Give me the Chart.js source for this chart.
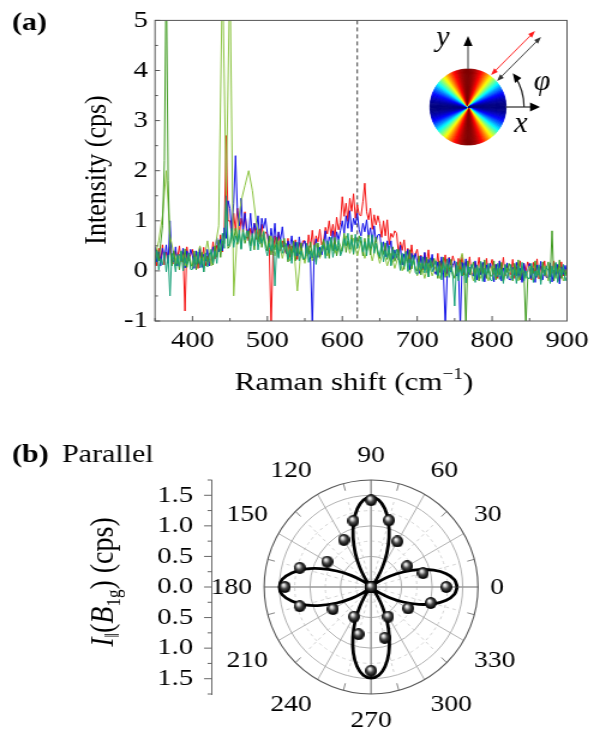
<!DOCTYPE html>
<html>
<head>
<meta charset="utf-8">
<script src="https://cdn.jsdelivr.net/npm/chart.js@4.4.1/dist/chart.umd.min.js"></script>
<style>
  html, body { margin: 0; padding: 0; background: #fff; }
  body { width: 606px; height: 733px; position: relative; overflow: hidden; }
  canvas { position: absolute; left: 0; transform-origin: 0 0; transform: scaleX(1.2); }
  #spectra { top: 0; }
  #polar { top: 400px; }
</style>
</head>
<body>
<canvas id="spectra" width="505" height="400"></canvas>
<canvas id="polar" width="505" height="333"></canvas>
<script>
// the serif text of the figure is wide, so both canvases are drawn narrow and stretched by CSS
const SX = 1.2;
const serif = "'Liberation Serif', 'Times New Roman', serif";

// ---- (a) Raman spectra ----
// fine grid (2.5 cm-1) used by the four dense spectra
const ramanShiftFine = [
  350, 352.5, 355, 357.5, 360, 362.5, 365, 367.5, 370, 372.5,
  375, 377.5, 380, 382.5, 385, 387.5, 390, 392.5, 395, 397.5,
  400, 402.5, 405, 407.5, 410, 412.5, 415, 417.5, 420, 422.5,
  425, 427.5, 430, 432.5, 435, 437.5, 440, 442.5, 445, 447.5,
  450, 452.5, 455, 457.5, 460, 462.5, 465, 467.5, 470, 472.5,
  475, 477.5, 480, 482.5, 485, 487.5, 490, 492.5, 495, 497.5,
  500, 502.5, 505, 507.5, 510, 512.5, 515, 517.5, 520, 522.5,
  525, 527.5, 530, 532.5, 535, 537.5, 540, 542.5, 545, 547.5,
  550, 552.5, 555, 557.5, 560, 562.5, 565, 567.5, 570, 572.5,
  575, 577.5, 580, 582.5, 585, 587.5, 590, 592.5, 595, 597.5,
  600, 602.5, 605, 607.5, 610, 612.5, 615, 617.5, 620, 622.5,
  625, 627.5, 630, 632.5, 635, 637.5, 640, 642.5, 645, 647.5,
  650, 652.5, 655, 657.5, 660, 662.5, 665, 667.5, 670, 672.5,
  675, 677.5, 680, 682.5, 685, 687.5, 690, 692.5, 695, 697.5,
  700, 702.5, 705, 707.5, 710, 712.5, 715, 717.5, 720, 722.5,
  725, 727.5, 730, 732.5, 735, 737.5, 740, 742.5, 745, 747.5,
  750, 752.5, 755, 757.5, 760, 762.5, 765, 767.5, 770, 772.5,
  775, 777.5, 780, 782.5, 785, 787.5, 790, 792.5, 795, 797.5,
  800, 802.5, 805, 807.5, 810, 812.5, 815, 817.5, 820, 822.5,
  825, 827.5, 830, 832.5, 835, 837.5, 840, 842.5, 845, 847.5,
  850, 852.5, 855, 857.5, 860, 862.5, 865, 867.5, 870, 872.5,
  875, 877.5, 880, 882.5, 885, 887.5, 890, 892.5, 895, 897.5,
  900
];
const intensityRed = [
  0.35, 0.10, 0.45, 0.20, 0.52, 0.12, 0.38, 0.25, 0.48, 0.15,
  0.15, 0.40, 0.25, 0.50, 0.18, 0.38, -0.80, 0.48, 0.20, 0.33,
  0.43, 0.13, 0.33, 0.05, 0.40, 0.20, 0.47, 0.10, 0.30, 0.15,
  0.25, 0.58, 0.24, 0.51, 0.42, 0.72, 0.38, 0.80, 2.70, 1.00,
  1.00, 0.70, 1.15, 0.80, 1.25, 0.72, 1.05, 0.88, 1.18, 0.75,
  0.60, 0.85, 0.70, 0.95, 0.63, 0.83, 0.55, 0.93, 0.65, 0.78,
  0.73, 0.43, -1.10, 0.35, 0.70, 0.50, 0.77, 0.40, 0.60, 0.45,
  0.35, 0.65, 0.27, 0.50, 0.37, 0.62, 0.23, 0.57, 0.42, 0.60,
  0.60, 0.36, 0.72, 0.47, 0.81, 0.42, 0.70, 0.58, 0.83, 0.52,
  0.60, 0.87, 0.74, 1.00, 0.70, 0.93, 0.67, 1.07, 0.82, 0.97,
  1.48, 1.09, 1.35, 0.99, 1.45, 1.19, 1.54, 1.05, 1.32, 1.12,
  1.10, 1.38, 1.75, 1.18, 1.02, 1.25, 0.83, 1.12, 0.92, 1.10,
  0.95, 0.67, 1.00, 0.70, 1.02, 0.52, 0.75, 0.67, 0.80, 0.75,
  0.35, 0.58, 0.41, 0.62, 0.28, 0.45, 0.17, 0.52, 0.21, 0.33,
  0.43, 0.12, 0.31, 0.02, 0.36, 0.15, 0.42, 0.05, 0.24, 0.08,
  0.05, 0.35, -0.03, 0.20, 0.07, 0.32, -0.07, 0.27, 0.12, 0.30,
  0.15, -0.10, 0.25, 0.00, 0.32, -0.08, 0.18, 0.05, 0.28, -0.05,
  -0.08, 0.17, 0.02, 0.27, -0.05, 0.15, -0.13, 0.25, -0.03, 0.10,
  0.23, -0.07, 0.13, -0.15, 0.20, 0.00, 0.27, -0.10, 0.10, -0.05,
  -0.07, 0.23, -0.15, 0.08, -0.05, 0.20, -0.19, 0.15, 0.00, 0.18,
  0.07, -0.18, 0.17, -0.08, 0.24, -0.16, 0.10, -0.03, 0.20, -0.13,
  -0.15, 0.10, -0.05, 0.20, -0.12, 0.08, -0.20, 0.18, -0.10, 0.03,
  0.00
];
const intensityBlue = [
  0.48, 0.18, 0.38, 0.10, 0.45, 0.25, 0.52, 0.15, 1.00, 0.20,
  0.18, 0.48, 0.10, 0.33, 0.20, 0.45, 0.06, 0.40, 0.25, 0.43,
  0.30, 0.05, 0.40, 0.15, 0.47, 0.07, 0.33, 0.20, 0.43, 0.10,
  0.20, 0.48, 0.37, 0.66, 0.38, 0.63, 0.40, 0.86, 0.65, 1.40,
  1.25, 0.80, 1.35, 2.30, 1.20, 0.90, 1.45, 0.75, 1.15, 0.85,
  0.75, 1.15, 0.68, 0.95, 0.80, 1.10, 0.62, 1.05, 0.85, 1.05,
  0.75, 0.48, 0.85, 0.55, 0.95, 0.50, 0.78, 0.62, 0.88, 0.52,
  0.35, 0.60, 0.45, 0.70, 0.38, 0.58, 0.30, 0.68, 0.40, 0.53,
  0.60, 0.30, 0.50, 0.22, -1.10, 0.37, 0.64, 0.27, 0.47, 0.32,
  0.50, 0.80, 0.42, 0.68, 0.55, 0.80, 0.43, 0.78, 0.62, 0.80,
  1.00, 0.75, 1.10, 0.85, 1.20, 0.78, 1.05, 0.92, 1.15, 0.82,
  0.70, 0.95, 0.78, 1.02, 0.68, 0.86, 0.55, 0.90, 0.58, 0.72,
  0.73, 0.40, 0.58, 0.28, 0.60, 0.38, 0.60, 0.23, 0.42, 0.27,
  0.22, 0.51, 0.12, 0.34, 0.20, 0.43, 0.02, 0.35, 0.19, 0.35,
  0.20, -0.05, 0.30, 0.05, 0.37, -0.03, 0.23, 0.10, 0.33, 0.00,
  -0.07, 0.18, 0.03, 0.28, -0.04, -1.10, -0.12, 0.26, -0.02, 0.11,
  0.20, -0.10, 0.10, -1.10, 0.17, -0.03, 0.24, -0.13, 0.07, -0.08,
  -0.10, 0.20, -0.18, 0.05, -0.08, 0.17, -0.22, 0.12, -0.03, 0.15,
  0.03, -0.22, 0.13, -0.12, 0.20, -0.20, 0.06, -0.07, 0.16, -0.17,
  -0.18, 0.07, -0.08, 0.17, -0.15, 0.05, -0.23, 0.15, -0.13, 0.00,
  0.15, -0.15, 0.05, -0.23, 0.12, -0.08, 0.19, -0.18, 0.02, -0.13,
  -0.14, 0.16, -0.22, 0.01, -0.12, 0.13, -0.26, 0.08, -0.07, 0.11,
  -0.05
];
const intensityGreen = [
  0.15, 0.42, 0.20, 0.55, 0.90, 2.20, 6.00, 1.80, 0.45, 0.10,
  0.40, 0.10, 0.30, 0.02, 0.37, 0.17, 0.44, 0.07, 0.27, 0.12,
  0.10, 0.40, 0.02, 0.25, 0.12, 0.37, -0.02, 0.32, 0.17, 0.35,
  0.35, 0.12, 0.50, 0.27, 0.62, 0.27, 0.60, 0.55, 1.40, 0.45,
  0.50, 0.75, 0.60, 0.85, 0.53, 0.73, 0.45, 0.83, 0.55, 0.68,
  0.80, 0.50, 0.70, 0.42, 0.77, 0.57, 0.84, 0.47, 0.67, 0.52,
  0.40, 0.70, 0.32, 0.55, 0.42, 0.67, 0.28, 0.62, 0.47, 0.65,
  0.43, 0.18, 0.53, 0.28, 0.60, 0.20, 0.46, 0.33, 0.56, 0.23,
  0.23, 0.48, 0.33, 0.58, 0.26, 0.46, 0.18, 0.56, 0.28, 0.41,
  0.63, 0.33, 0.53, 0.25, 0.60, 0.40, 0.67, 0.30, 0.50, 0.35,
  0.45, 0.75, 0.37, 0.60, 0.47, 0.72, 0.33, 0.67, 0.52, 0.70,
  0.55, 0.30, 0.65, 0.40, 0.72, 0.32, 0.58, 0.45, 0.68, 0.35,
  0.25, 0.49, 0.33, 0.56, 0.23, 0.41, 0.12, 0.48, 0.19, 0.31,
  0.43, 0.12, 0.31, 0.03, 0.37, 0.16, 0.42, 0.04, 0.23, 0.05,
  0.00, 0.30, -0.08, 0.15, 0.02, 0.27, -0.12, 0.22, 0.07, 0.25,
  0.10, -0.15, 0.20, -0.05, 0.27, -0.13, 0.13, 0.00, 0.23, -0.10,
  -0.13, 0.12, -0.03, 0.22, -0.10, 0.10, -1.10, 0.20, -0.08, 0.05,
  0.18, -0.12, 0.08, -0.20, 0.15, -0.05, 0.22, -0.15, 0.05, -0.10,
  -0.10, 0.20, -0.18, 0.05, -0.08, 0.17, -0.22, 0.12, -0.03, 0.15,
  0.05, -0.20, 0.15, -0.10, 0.22, -0.18, 0.08, -0.05, -1.10, -0.15,
  -0.15, 0.10, -0.05, 0.20, -0.12, 0.08, -0.20, 0.18, -0.10, 0.03,
  0.18, -0.12, 0.80, -0.20, 0.15, -0.05, 0.22, -0.15, 0.05, -0.10,
  0.05
];
const intensityTeal = [
  0.10, 0.40, 0.02, 0.25, 0.12, 0.37, -0.02, 0.32, -0.50, 0.35,
  0.23, -0.02, 0.33, 0.08, 0.40, 0.00, 0.26, 0.13, 0.36, 0.03,
  0.03, 0.28, 0.13, 0.38, 0.06, 0.26, -0.02, 0.36, 0.08, 0.21,
  0.43, 0.15, 0.40, 0.15, 0.52, 0.40, 0.75, 0.45, 1.50, 0.50,
  0.55, 0.85, 0.47, 0.70, 0.57, 0.82, 0.43, 0.77, 0.62, 0.80,
  0.65, 0.40, 0.75, 0.50, 0.82, 0.42, 0.68, 0.55, 0.78, 0.45,
  0.30, 0.55, 0.40, 0.65, -0.30, 0.53, 0.25, 0.63, 0.35, 0.48,
  0.53, 0.23, 0.43, 0.15, 0.50, 0.30, 0.57, 0.20, 0.40, 0.25,
  0.25, 0.55, 0.17, 0.40, 0.27, 0.52, 0.13, 0.47, 0.32, 0.50,
  0.50, 0.25, 0.60, 0.35, 0.67, 0.27, 0.53, 0.40, 0.63, 0.30,
  0.40, 0.65, 0.50, 0.75, 0.43, 0.63, 0.35, 0.73, 0.45, 0.58,
  0.68, 0.38, 0.58, 0.30, 0.65, 0.45, 0.72, 0.35, 0.55, 0.40,
  0.28, 0.57, 0.18, 0.40, 0.26, 0.50, 0.10, 0.42, 0.26, 0.43,
  0.27, 0.01, 0.35, 0.09, 0.39, -0.01, 0.24, 0.10, 0.31, -0.03,
  -0.07, 0.18, 0.03, 0.28, -0.04, 0.16, -0.12, 0.26, -0.02, 0.11,
  0.20, -0.10, 0.10, -0.18, 0.17, -0.03, 0.24, -0.13, 0.07, -0.08,
  -0.70, 0.18, -0.20, 0.03, -0.10, 0.15, -0.24, 0.10, -0.05, 0.13,
  0.02, -0.23, 0.12, -0.13, 0.19, -0.21, 0.05, -0.08, 0.15, -0.18,
  -0.20, 0.05, -0.10, 0.15, -0.17, 0.03, -0.25, 0.13, -0.15, -0.02,
  0.13, -0.17, 0.03, -0.25, 0.10, -0.10, 0.17, -0.20, 0.00, -0.15,
  -0.15, 0.15, -0.23, 0.00, -0.13, 0.12, -0.27, 0.07, -0.08, 0.10,
  0.00, -0.25, 0.10, -0.15, 0.17, -0.23, 0.03, -0.10, 0.13, -0.20,
  -0.10
];
// coarse grid (5 cm-1) for the light green trace with the strong lines
const ramanShift = [
  350, 355, 360, 365, 370, 375, 380, 385, 390, 395,
  400, 405, 410, 415, 420, 425, 430, 435, 440, 445,
  450, 455, 460, 465, 470, 475, 480, 485, 490, 495,
  500, 505, 510, 515, 520, 525, 530, 535, 540, 545,
  550, 555, 560, 565, 570, 575, 580, 585, 590, 595,
  600, 605, 610, 615, 620, 625, 630, 635, 640, 645,
  650, 655, 660, 665, 670, 675, 680, 685, 690, 695,
  700, 705, 710, 715, 720, 725, 730, 735, 740, 745,
  750, 755, 760, 765, 770, 775, 780, 785, 790, 795,
  800, 805, 810, 815, 820, 825, 830, 835, 840, 845,
  850, 855, 860, 865, 870, 875, 880, 885, 890, 895,
  900
];
const intensityLightGreen = [
  0.30, 0.60, 1.10, 2.00, 0.70, 0.35, 0.15, 0.40, 0.10, 0.35,
  0.05, 0.25, 0.50, 0.20, 0.60, 0.10, 0.45, 0.90, 6.00, 1.50,
  6.00, -0.50, 0.80, 1.40, 1.70, 2.00, 1.60, 1.00, 0.55, 0.80,
  0.40, 0.70, 0.30, 0.60, 0.25, 0.55, 0.20, 0.50, -0.40, 0.45,
  0.15, 0.50, 0.20, 0.55, 0.25, 0.60, 0.30, 0.65, 0.35, 0.60,
  0.40, 0.70, 0.35, 0.65, 0.30, 0.60, 0.25, 0.55, 0.20, 0.50,
  0.15, 0.40, 0.10, 0.35, 0.05, 0.30, 0.00, 0.25, -0.05, 0.20,
  -0.10, 0.15, -0.15, 0.15, -0.10, 0.10, -0.15, 0.10, -0.10, 0.05,
  -0.15, 0.10, 0.35, -0.10, 0.05, -0.20, 0.10, -0.15, 0.05, -0.20,
  0.10, -0.15, 0.05, -0.20, 0.05, -0.15, 0.10, -0.20, 0.05, -0.15,
  0.10, -0.20, 0.00, -0.15, 0.10, -0.20, 0.05, -0.15, 0.10, -0.20,
  0.05
];
const markerShift = 620;

// ---- (b) polar plot ----
const polarAngles = [0, 15, 30, 45, 60, 75, 90, 105, 120, 135, 150, 165,
  180, 195, 210, 225, 240, 255, 270, 285, 300, 315, 330, 345];
const polarIntensity = [1.23, 0.88, 0.68, 0.00, 0.86, 1.13, 1.42, 1.12, 0.89, 0.00, 0.83, 1.21,
  1.41, 1.21, 0.72, 0.00, 0.56, 0.80, 1.37, 0.86, 0.56, 0.00, 0.70, 1.01];
const fitAngles = [
  0, 5, 10, 15, 20, 25, 30, 35, 40, 45, 50, 55, 60, 65, 70, 75, 80, 85,
  90, 95, 100, 105, 110, 115, 120, 125, 130, 135, 140, 145, 150, 155, 160, 165, 170, 175,
  180, 185, 190, 195, 200, 205, 210, 215, 220, 225, 230, 235, 240, 245, 250, 255, 260, 265,
  270, 275, 280, 285, 290, 295, 300, 305, 310, 315, 320, 325, 330, 335, 340, 345, 350, 355, 360
];
const fitIntensity = [
  1.41, 1.37, 1.25, 1.06, 0.83, 0.58, 0.35, 0.16, 0.04, 0.00, 0.04, 0.17, 0.37, 0.61, 0.86, 1.10, 1.30, 1.43,
  1.47, 1.43, 1.30, 1.10, 0.86, 0.61, 0.37, 0.17, 0.04, 0.00, 0.05, 0.18, 0.38, 0.62, 0.88, 1.13, 1.32, 1.46,
  1.50, 1.46, 1.32, 1.13, 0.88, 0.62, 0.38, 0.18, 0.05, 0.00, 0.04, 0.17, 0.37, 0.62, 0.87, 1.12, 1.32, 1.45,
  1.49, 1.45, 1.32, 1.12, 0.87, 0.62, 0.37, 0.17, 0.04, 0.00, 0.04, 0.16, 0.35, 0.58, 0.83, 1.06, 1.25, 1.37, 1.41
];
const polarRings = [0.25, 0.5, 0.75, 1.0, 1.25, 1.5];
const polarMax = 1.75;
const polarTickLabels = [0, 30, 60, 90, 120, 150, 180, 210, 240, 270, 300, 330];

const rad = (d) => (d * Math.PI) / 180;

function arrowHead(ctx, x, y, ang, len, half) {
  ctx.beginPath();
  ctx.moveTo(x, y);
  ctx.lineTo(x - len * Math.cos(ang) + half * Math.sin(ang), y - len * Math.sin(ang) - half * Math.cos(ang));
  ctx.lineTo(x - len * Math.cos(ang) - half * Math.sin(ang), y - len * Math.sin(ang) + half * Math.cos(ang));
  ctx.closePath();
  ctx.fill();
}

function jet(v) {
  const c = (t) => Math.round(255 * Math.max(0, Math.min(1, t)));
  return `rgb(${c(1.5 - Math.abs(4 * v - 3))},${c(1.5 - Math.abs(4 * v - 2))},${c(1.5 - Math.abs(4 * v - 1))})`;
}

// sketch in the upper right corner: polarisation wheel and axes, drawn in page pixels
function drawInset(ctx) {
  ctx.save();
  ctx.scale(1 / SX, 1);
  const cx = 468, cy = 107, r = 38;
  for (let a = 0; a < 360; a += 2) {
    const col = jet(Math.pow(Math.sin(rad(a + 1)), 2));
    ctx.fillStyle = col;
    ctx.strokeStyle = col;
    ctx.lineWidth = 0.8;
    ctx.beginPath();
    ctx.moveTo(cx, cy);
    ctx.arc(cx, cy, r, rad(a), rad(a + 2.2));
    ctx.closePath();
    ctx.fill();
    ctx.stroke();
  }
  ctx.strokeStyle = '#555';
  ctx.fillStyle = '#000';
  ctx.lineWidth = 1.4;
  ctx.beginPath();
  ctx.moveTo(cx, cy - r); ctx.lineTo(cx, 44);
  ctx.moveTo(cx + r, cy); ctx.lineTo(532, cy);
  ctx.stroke();
  arrowHead(ctx, cx, 36, -Math.PI / 2, 10, 4.5);
  arrowHead(ctx, 540, cy, 0, 10, 4.5);
  // angle arrow
  ctx.strokeStyle = '#222';
  ctx.beginPath();
  ctx.arc(cx, cy, 56, 0, rad(-33), true);
  ctx.stroke();
  const ea = rad(-37);
  arrowHead(ctx, cx + 56 * Math.cos(ea), cy + 56 * Math.sin(ea), ea - Math.PI / 2, 9, 4);
  // polarisation double arrows
  const pair = (x1, y1, x2, y2, col) => {
    ctx.strokeStyle = col; ctx.fillStyle = col; ctx.lineWidth = 1;
    const ang = Math.atan2(y2 - y1, x2 - x1);
    ctx.beginPath(); ctx.moveTo(x1 + 4 * Math.cos(ang), y1 + 4 * Math.sin(ang));
    ctx.lineTo(x2 - 4 * Math.cos(ang), y2 - 4 * Math.sin(ang)); ctx.stroke();
    arrowHead(ctx, x2, y2, ang, 7, 2.6);
    arrowHead(ctx, x1, y1, ang + Math.PI, 7, 2.6);
  };
  pair(491, 75, 535, 31, '#ff1a1a');
  pair(497, 81, 541, 37, '#333');
  ctx.fillStyle = '#000';
  ctx.textAlign = 'center';
  ctx.textBaseline = 'alphabetic';
  ctx.font = `italic 30px ${serif}`;
  ctx.fillText('y', 443, 46);
  ctx.fillText('x', 521, 132);
  ctx.fillText('\u03c6', 542, 90);
  ctx.restore();
}

const spectraDecor = {
  id: 'spectraDecor',
  beforeDatasetsDraw(chart) {
    const { ctx, chartArea: a, scales: { x } } = chart;
    const px = x.getPixelForValue(markerShift);
    ctx.save();
    ctx.strokeStyle = '#111';
    ctx.lineWidth = 0.8;
    ctx.setLineDash([4, 3]);
    ctx.beginPath(); ctx.moveTo(px, a.top); ctx.lineTo(px, a.bottom); ctx.stroke();
    ctx.restore();
  },
  afterDraw(chart) {
    const { ctx, chartArea: a, scales: { x, y } } = chart;
    ctx.save();
    ctx.strokeStyle = '#555';
    ctx.lineWidth = 1;
    ctx.strokeRect(a.left, a.top, a.right - a.left, a.bottom - a.top);
    ctx.beginPath();
    x.ticks.forEach((t) => {
      const px = x.getPixelForValue(t.value);
      const len = t.value % 100 === 0 ? 5 : 3;
      ctx.moveTo(px, a.bottom); ctx.lineTo(px, a.bottom - len);
    });
    y.ticks.forEach((t) => {
      const py = y.getPixelForValue(t.value);
      const len = (Number.isInteger(t.value) ? 5 : 3) / SX;
      ctx.moveTo(a.left, py); ctx.lineTo(a.left + len, py);
    });
    ctx.stroke();

    ctx.fillStyle = '#000';
    ctx.textBaseline = 'alphabetic';
    // x title with superscript
    ctx.font = `26px ${serif}`;
    const t1 = 'Raman shift (cm', t3 = ')';
    const w1 = ctx.measureText(t1).width, w3 = ctx.measureText(t3).width;
    ctx.font = `16px ${serif}`;
    const w2 = ctx.measureText('\u22121').width;
    const tx = 354 / SX - (w1 + w2 + w3) / 2;
    ctx.textAlign = 'left';
    ctx.font = `26px ${serif}`;
    ctx.fillText(t1, tx, 390);
    ctx.font = `16px ${serif}`;
    ctx.fillText('\u22121', tx + w1, 379);
    ctx.font = `26px ${serif}`;
    ctx.fillText(t3, tx + w1 + w2, 390);
    // y title
    ctx.save();
    ctx.translate(106 / SX, 170);
    ctx.rotate(-Math.PI / 2);
    ctx.textAlign = 'center';
    ctx.fillText('Intensity (cps)', 0, 0);
    ctx.restore();
    // panel letter
    ctx.font = `bold 25px ${serif}`;
    ctx.fillText('(a)', 12 / SX, 30);
    drawInset(ctx);
    ctx.restore();
  }
};

const toPoints = (xs, ys) => xs.map((x, i) => ({ x, y: ys[i] }));

new Chart(document.getElementById('spectra'), {
  type: 'line',
  data: {
    datasets: [
      { data: toPoints(ramanShiftFine, intensityTeal), borderColor: '#16a078' },
      { data: toPoints(ramanShiftFine, intensityGreen), borderColor: '#3f9b1f' },
      { data: toPoints(ramanShift, intensityLightGreen), borderColor: '#8cc442' },
      { data: toPoints(ramanShiftFine, intensityBlue), borderColor: '#1010e8' },
      { data: toPoints(ramanShiftFine, intensityRed), borderColor: '#f41010' }
    ]
  },
  options: {
    responsive: false,
    animation: false,
    elements: { point: { radius: 0 }, line: { borderWidth: 1, tension: 0 } },
    layout: { padding: { left: 0, right: 32.5, top: 19, bottom: 0 } },
    plugins: { legend: { display: false }, tooltip: { enabled: false } },
    scales: {
      x: {
        type: 'linear', min: 350, max: 900,
        border: { display: false },
        grid: { display: false, drawTicks: false },
        ticks: {
          stepSize: 50, padding: 5, autoSkip: false, maxRotation: 0, color: '#000',
          font: { family: serif, size: 24 },
          callback: (v) => (v % 100 === 0 ? v : '')
        },
        afterFit: (s) => { s.height = 79; }
      },
      y: {
        min: -1, max: 5,
        border: { display: false },
        grid: { display: false, drawTicks: false },
        ticks: {
          stepSize: 0.5, padding: 6, autoSkip: false, color: '#000',
          font: { family: serif, size: 24 },
          callback: (v) => (Number.isInteger(v) ? v : '')
        },
        afterFit: (s) => { s.width = 155 / SX; }
      }
    }
  },
  plugins: [spectraDecor]
});

// shaded black sphere used as marker, drawn narrow so it ends up round
function makeBall(d) {
  const c = document.createElement('canvas');
  c.width = Math.round(d / SX);
  c.height = d;
  const g = c.getContext('2d');
  g.scale(c.width / d, 1);
  const r = d / 2;
  const grad = g.createRadialGradient(r * 0.72, r * 0.62, r * 0.05, r, r, r);
  grad.addColorStop(0, '#ffffff');
  grad.addColorStop(0.2, '#cfcfcf');
  grad.addColorStop(0.5, '#4a4a4a');
  grad.addColorStop(0.85, '#0c0c0c');
  grad.addColorStop(1, '#000');
  g.fillStyle = grad;
  g.beginPath(); g.arc(r, r, r, 0, 2 * Math.PI); g.fill();
  return c;
}

const polarDecor = {
  id: 'polarDecor',
  beforeDatasetsDraw(chart) {
    const { ctx, scales: { x, y } } = chart;
    const cx = x.getPixelForValue(0), cy = y.getPixelForValue(0);
    const kx = x.getPixelForValue(1) - cx, ky = cy - y.getPixelForValue(1);
    const ring = (r, color, dash, w) => {
      ctx.strokeStyle = color; ctx.setLineDash(dash); ctx.lineWidth = w;
      ctx.beginPath(); ctx.ellipse(cx, cy, r * kx, r * ky, 0, 0, 2 * Math.PI); ctx.stroke();
    };
    const spoke = (deg, r0, r1, color, dash, w) => {
      const c = Math.cos(rad(deg)), s = Math.sin(rad(deg));
      ctx.strokeStyle = color; ctx.setLineDash(dash); ctx.lineWidth = w;
      ctx.beginPath();
      ctx.moveTo(cx + r0 * c * kx, cy - r0 * s * ky);
      ctx.lineTo(cx + r1 * c * kx, cy - r1 * s * ky);
      ctx.stroke();
    };
    ctx.save();
    polarRings.forEach((r, i) => ring(r, i % 2 ? '#a8a8a8' : '#cfcfcf', i % 2 ? [] : [3, 3], 0.9));
    for (let d = 15; d < 360; d += 30) spoke(d, 0.1, polarRings[polarRings.length - 1], '#cfcfcf', [3, 3], 0.9);
    for (let d = 0; d < 360; d += 30) {
      const main = d % 90 === 0;
      spoke(d, 0, polarMax, main ? '#9a9a9a' : '#a8a8a8', [], main ? 1.6 : 0.9);
    }
    for (let d = 15; d < 360; d += 30) spoke(d, polarMax - 0.12, polarMax, '#777', [], 0.9);
    ring(polarMax, '#555', [], 1.1);
    ctx.restore();
  },
  afterDraw(chart) {
    const { ctx, chartArea: a, scales: { x, y } } = chart;
    const cx = x.getPixelForValue(0), cy = y.getPixelForValue(0);
    const ky = cy - y.getPixelForValue(1);
    ctx.save();
    // minor / major ticks of the radius axis
    ctx.strokeStyle = '#666';
    ctx.lineWidth = 1;
    ctx.beginPath();
    y.ticks.forEach((t) => {
      const py = y.getPixelForValue(t.value);
      const len = (Math.round(t.value * 4) % 2 === 0 ? 8 : 4.5) / SX;
      ctx.moveTo(a.left - len, py); ctx.lineTo(a.left, py);
    });
    ctx.stroke();
    // angle labels, boxes pushed out from the ring
    ctx.fillStyle = '#000';
    ctx.font = `23px ${serif}`;
    ctx.textAlign = 'center';
    ctx.textBaseline = 'middle';
    const R = polarMax * ky + 12;
    polarTickLabels.forEach((deg) => {
      const txt = String(deg);
      const w = ctx.measureText(txt).width * SX;
      const c = Math.cos(rad(deg)), s = Math.sin(rad(deg));
      const sc = Math.abs(c) < 0.01 ? 0 : Math.sign(c);
      const ss = Math.abs(s) < 0.01 ? 0 : Math.sign(s);
      const dx = R * c + sc * w / 2, dy = R * s + ss * 13.5;
      ctx.fillText(txt, cx + dx / SX, cy - dy + 1);
    });
    // rotated axis title  I||(B1g) (cps)
    ctx.textBaseline = 'alphabetic';
    ctx.textAlign = 'left';
    const parts = [
      ['I', `italic 28px ${serif}`, 0],
      ['\u2016', `16px ${serif}`, 5],
      ['(', `28px ${serif}`, 0],
      ['B', `italic 28px ${serif}`, 0],
      ['1g', `17px ${serif}`, 6],
      [') (cps)', `28px ${serif}`, 0]
    ];
    let total = 0;
    parts.forEach((p) => { ctx.font = p[1]; total += ctx.measureText(p[0]).width; });
    ctx.save();
    ctx.translate(113 / SX, 582 - 400);
    ctx.rotate(-Math.PI / 2);
    let px = -total / 2;
    parts.forEach((p) => {
      ctx.font = p[1];
      ctx.fillText(p[0], px, p[2]);
      px += ctx.measureText(p[0]).width;
    });
    ctx.restore();
    // panel letter
    ctx.font = `bold 25px ${serif}`;
    ctx.fillText('(b)', 12 / SX, 62);
    ctx.font = `25px ${serif}`;
    ctx.fillText('Parallel', 62 / SX, 62);
    ctx.restore();
  }
};

const toCartesian = (angles, radii) => angles.map((d, i) => ({
  x: radii[i] * Math.cos(rad(d)),
  y: radii[i] * Math.sin(rad(d))
}));

new Chart(document.getElementById('polar'), {
  type: 'scatter',
  data: {
    datasets: [
      { data: toCartesian(polarAngles, polarIntensity), pointStyle: makeBall(12), pointRadius: 6, showLine: false },
      {
        data: toCartesian(fitAngles, fitIntensity), showLine: true, pointRadius: 0,
        borderColor: '#000', borderWidth: 2.8, tension: 0.3, fill: false
      }
    ]
  },
  options: {
    responsive: false,
    animation: false,
    layout: { padding: { left: 0, right: 106.7, top: 80, bottom: 39 } },
    plugins: { legend: { display: false }, tooltip: { enabled: false } },
    scales: {
      x: { type: 'linear', min: -2.603, max: polarMax, display: false },
      y: {
        type: 'linear', min: -polarMax, max: polarMax,
        border: { display: true, color: '#666', width: 1 },
        grid: { display: false, drawTicks: false },
        ticks: {
          stepSize: 0.25, padding: 15.6, autoSkip: false, color: '#000',
          font: { family: serif, size: 24 },
          callback: (v) => (Math.round(v * 4) % 2 === 0 ? Math.abs(v).toFixed(1) : '')
        },
        afterFit: (s) => { s.width = 176.7; }
      }
    }
  },
  plugins: [polarDecor]
});
</script>
</body>
</html>
